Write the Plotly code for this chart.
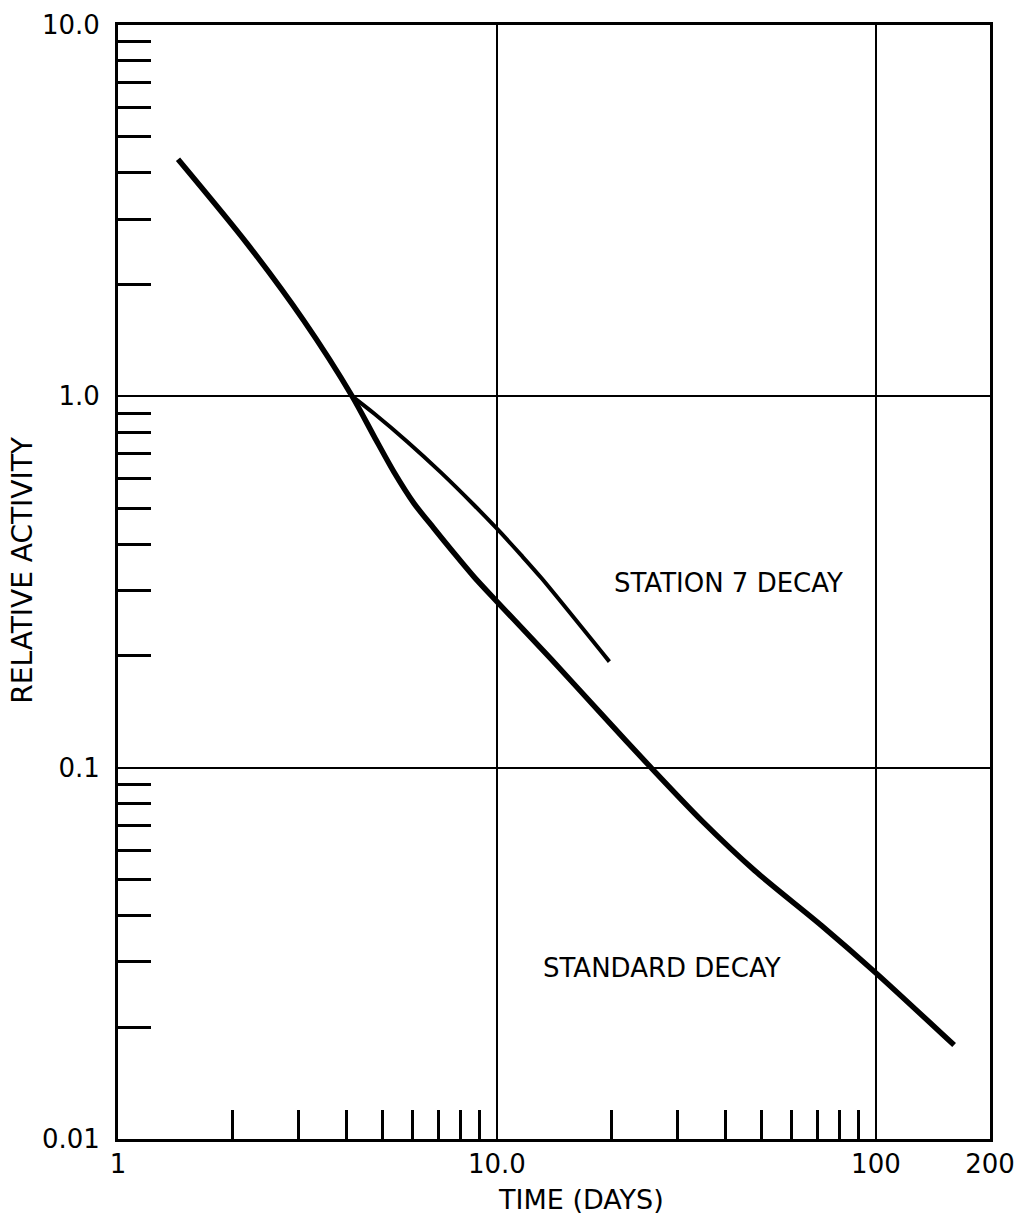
import numpy as np
import plotly.graph_objects as go

# ---- data ----
standard_days = [1.44, 2.19, 3.09, 4.15, 4.74, 5.35, 6.04, 6.83, 7.71, 8.71, 10.0,
                 13.9, 18.8, 25.5, 34.7, 47.9, 72.0, 100.0, 160.8]
standard_activity = [4.35, 2.58, 1.60, 1.0, 0.780, 0.625, 0.515, 0.440, 0.378, 0.326, 0.280,
                     0.196, 0.140, 0.100, 0.072, 0.0528, 0.0375, 0.0280, 0.0179]

station7_days = [4.15, 4.74, 5.80, 7.11, 8.71, 10.0, 11.57, 13.1, 19.8]
station7_activity = [1.0, 0.899, 0.755, 0.624, 0.509, 0.440, 0.374, 0.324, 0.193]

x_tick_vals = [1, 10, 100, 200]
x_tick_text = ["1", "10.0", "100", "200"]
y_tick_vals = [0.01, 0.1, 1, 10]
y_tick_text = ["0.01", "0.1", "1.0", "10.0"]
x_minor_vals = [2, 3, 4, 5, 6, 7, 8, 9, 20, 30, 40, 50, 60, 70, 80, 90]
y_minor_vals = [m * d for d in (0.01, 0.1, 1) for m in range(2, 10)]

FONT = "DejaVu Sans"

fig = go.Figure()
fig.add_trace(go.Scatter(x=standard_days, y=standard_activity, mode="lines",
                         line=dict(color="black", width=5.5, shape="spline", smoothing=0.8),
                         name="STANDARD DECAY", showlegend=False))
fig.add_trace(go.Scatter(x=station7_days, y=station7_activity, mode="lines",
                         line=dict(color="black", width=4, shape="spline", smoothing=0.8),
                         name="STATION 7 DECAY", showlegend=False))

fig.update_layout(
    width=1019, height=1219,
    margin=dict(l=118, r=29, t=25, b=80, autoexpand=False),
    paper_bgcolor="white", plot_bgcolor="white",
    font=dict(family=FONT, color="black", size=26),
    xaxis=dict(type="log", range=[0, np.log10(200)], automargin=False,
               tickmode="array", tickvals=x_tick_vals, ticktext=x_tick_text,
               ticks="", ticklabelstandoff=0,
               showgrid=True, gridcolor="black", gridwidth=2,
               showline=True, linecolor="black", linewidth=3, mirror=True,
               zeroline=False,
               tickfont=dict(family=FONT, size=26, color="black"),
               minor=dict(tickmode="array", tickvals=x_minor_vals, ticks="inside",
                          ticklen=29, tickwidth=2.5, tickcolor="black", showgrid=False)),
    yaxis=dict(type="log", range=[-2, 1], automargin=False,
               tickmode="array", tickvals=y_tick_vals, ticktext=y_tick_text,
               ticks="", ticklabelstandoff=10,
               showgrid=True, gridcolor="black", gridwidth=2,
               showline=True, linecolor="black", linewidth=3, mirror=True,
               zeroline=False,
               tickfont=dict(family=FONT, size=26, color="black"),
               minor=dict(tickmode="array", tickvals=y_minor_vals, ticks="inside",
                          ticklen=33, tickwidth=2.5, tickcolor="black", showgrid=False)),
    annotations=[
        dict(text="STATION 7 DECAY", x=np.log10(40.8), y=np.log10(0.315), xref="x", yref="y",
             showarrow=False, font=dict(family=FONT, size=26, color="black")),
        dict(text="STANDARD DECAY", x=np.log10(27.2), y=np.log10(0.0289), xref="x", yref="y",
             showarrow=False, font=dict(family=FONT, size=26, color="black")),
        dict(text="TIME (DAYS)", x=0.531, y=-0.0545, xref="paper", yref="paper",
             xanchor="center", yanchor="middle",
             showarrow=False, font=dict(family=FONT, size=27, color="black")),
        dict(text="RELATIVE ACTIVITY", x=-0.109, y=0.511, xref="paper", yref="paper",
             xanchor="center", yanchor="middle",
             textangle=-90, showarrow=False, font=dict(family=FONT, size=28, color="black")),
    ],
)

fig.write_html("out.html", config={"displayModeBar": False},
               post_script="document.body.style.margin='0';document.body.style.padding='0';")
